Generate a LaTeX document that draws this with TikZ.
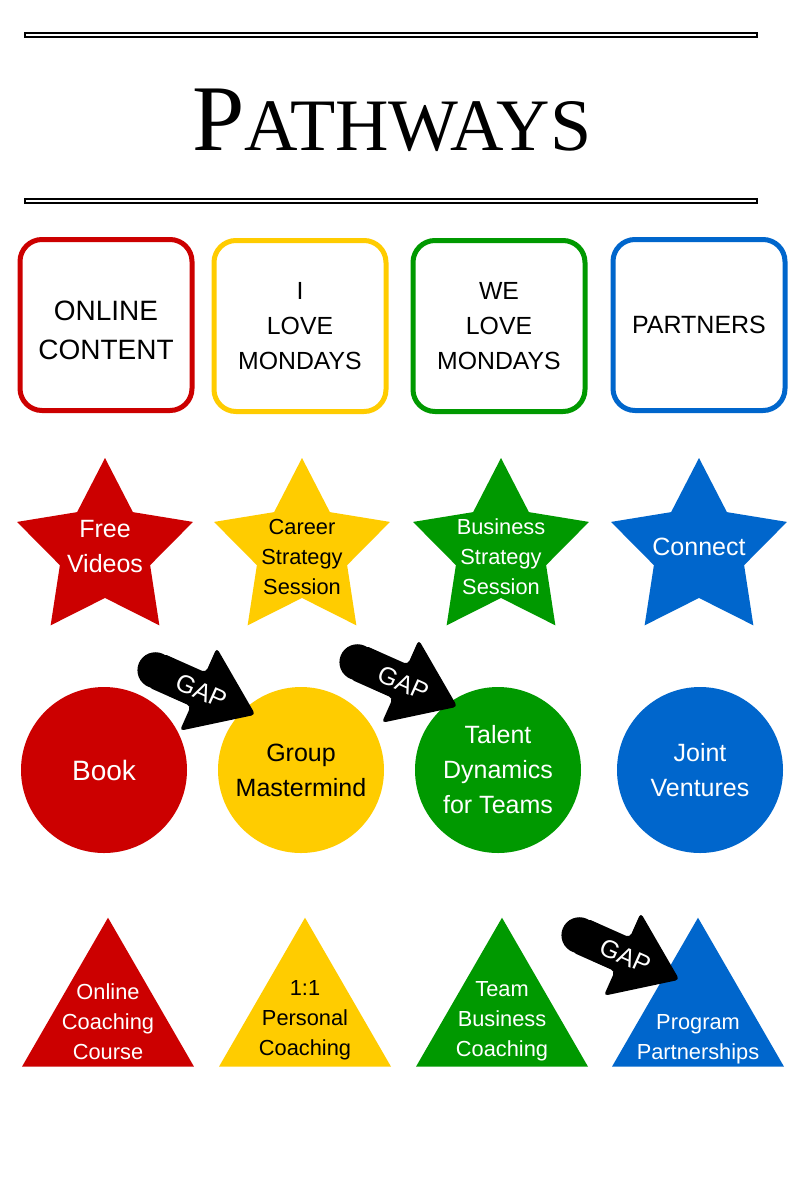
\documentclass[tikz,border=0pt]{standalone}
\usepackage{fontspec}
\setmainfont{Liberation Sans}
\newfontfamily\titlefont{Liberation Serif}
\usepackage{tikz}
\usetikzlibrary{positioning,shapes.geometric,shapes.arrows}
\definecolor{pwred}{HTML}{CC0000}
\definecolor{pwyellow}{HTML}{FFCC00}
\definecolor{pwgreen}{HTML}{009900}
\definecolor{pwblue}{HTML}{0066CC}

\begin{document}
\begin{tikzpicture}[
  x=0.5pt, y=-0.5pt,
  every node/.style={font=\fontsize{12.5}{17.5}\selectfont, align=center},
  rule/.style   ={draw, line width=0.6pt, fill=white},
  track/.style  ={draw=#1, line width=2.5pt, rounded corners=11pt, fill=white,
                  minimum width=86pt, minimum height=85.5pt, inner sep=0pt},
  goalstar/.style={star, star points=5, star point ratio=1.95, fill=#1,
                  minimum size=92.5pt, inner sep=0pt},
  offer/.style  ={circle, fill=#1, minimum size=83pt, inner sep=0pt},
  base/.style   ={regular polygon, regular polygon sides=3, fill=#1,
                  minimum size=99.3pt, inner sep=0pt},
  small/.style  ={font=\fontsize{10.9}{15}\selectfont},
  gap/.style    ={single arrow, fill=black, text=white, rotate=-24, anchor=tip,
                  font=\fontsize{12.5}{12.5}\selectfont,
                  single arrow head extend=13.5pt, single arrow tip angle=72,
                  minimum height=54.5pt, text height=9pt, text depth=0pt,
                  inner ysep=4.5pt, inner xsep=1pt, rounded corners=2pt}]

\fill[white] (0,0) rectangle (800,1200);
\useasboundingbox (0,0) rectangle (800,1200);

%% title between two double rules
\draw[rule] (25,33) rectangle (757,37);
\draw[rule] (25,199) rectangle (757,203);
\node[font=\titlefont, anchor=base] (title) at (392,150)
  {{\fontsize{47}{47}\selectfont P}{\fontsize{37}{37}\selectfont ATHWAYS}};

%% pathways
\node[track=pwred, font=\fontsize{14}{19.5}\selectfont, text height=34pt, text depth=0pt] (online) at (106,325) {ONLINE\\CONTENT};
\node[track=pwyellow, font=\fontsize{12.4}{17.5}\selectfont] (ilove) at (300,326) {I\\LOVE\\MONDAYS};
\node[track=pwgreen, font=\fontsize{12.4}{17.5}\selectfont] (welove) at (499,326) {WE\\LOVE\\MONDAYS};
\node[track=pwblue] (partners) at (699,325) {PARTNERS};

%% stars
\node[goalstar=pwred, label={[white, yshift=2pt]center:Free\\Videos}] (videos) at (105,550.5) {};
\node[goalstar=pwyellow, label={[small, yshift=-3.25pt]center:Career\\Strategy\\Session}] (career) at (302,550.5) {};
\node[goalstar=pwgreen, label={[small, white, yshift=-3.25pt]center:Business\\Strategy\\Session}] (business) at (501,550.5) {};
\node[goalstar=pwblue, label={[white, yshift=1.75pt]center:Connect}] (connect) at (699,550.5) {};

%% circles
\node[offer=pwred, text=white, font=\fontsize{14}{17.5}\selectfont] (book) at (104,770) {Book};
\node[offer=pwyellow] (mastermind) at (301,770) {Group\\Mastermind};
\node[offer=pwgreen, text=white] (talent) at (498,770) {Talent\\Dynamics\\for Teams};
\node[offer=pwblue, text=white] (ventures) at (700,770) {Joint\\Ventures};

%% triangles
\node[base=pwred, label={[small, white, yshift=-2.5pt]center:Online\\Coaching\\Course}] (course) at (108,1017) {};
\node[base=pwyellow, label={[small, yshift=-1.5pt]center:{1:1\\Personal\\Coaching}}] (personal) at (305,1017) {};
\node[base=pwgreen, label={[small, white, yshift=-2pt]center:Team\\Business\\Coaching}] (team) at (502,1017) {};
\node[base=pwblue, label={[small, white, yshift=-11pt]center:Program\\Partnerships}] (program) at (698,1017) {};

%% gap arrows, rounded tail added by hand
\node[gap] (gap1) at (256,715) {\hspace{8pt}GAP};
\fill (gap1.tail) circle (9pt);
\node[gap] (gap2) at (458,707) {\hspace{8pt}GAP};
\fill (gap2.tail) circle (9pt);
\node[gap] (gap3) at (680,980) {\hspace{8pt}GAP};
\fill (gap3.tail) circle (9pt);
\end{tikzpicture}
\end{document}
